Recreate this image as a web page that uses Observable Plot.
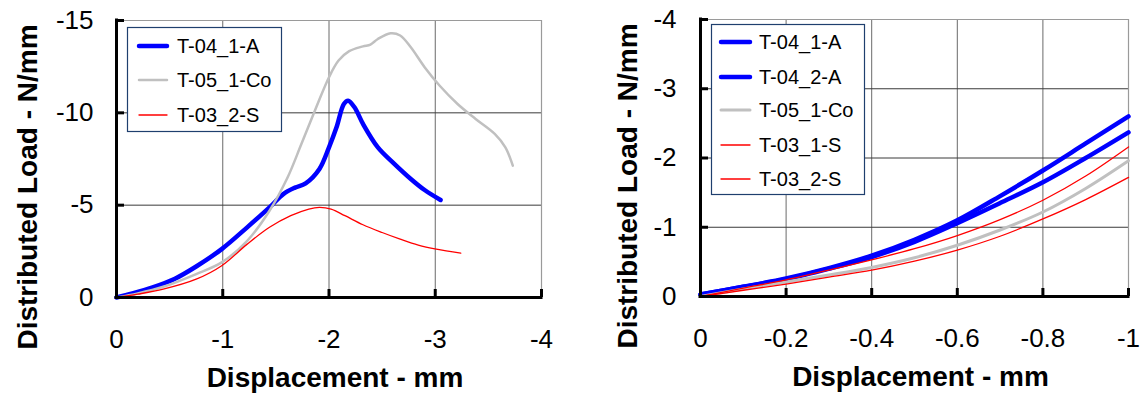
<!DOCTYPE html>
<html><head><meta charset="utf-8">
<script src="https://cdn.jsdelivr.net/npm/d3@7"></script>
<script src="https://cdn.jsdelivr.net/npm/@observablehq/plot@0.6"></script>
<style>
body{margin:0;background:#fff;font-family:"Liberation Sans",Arial,sans-serif;}
#wrap{position:relative;width:1144px;height:394px;overflow:hidden;background:#fff;}
.panel{position:absolute;top:0;}
.legend{position:absolute;}
</style></head><body><div id="wrap"></div>
<script>
// ---------- data ----------
const leftXTicks = [0, -1, -2, -3, -4];
const leftYTicks = [0, -5, -10, -15];
const rightXTicks = [0, -0.2, -0.4, -0.6, -0.8, -1];
const rightYTicks = [0, -1, -2, -3, -4];

// Left panel
const L_T04_1_A_x = [0,-0.15,-0.34,-0.55,-0.75,-0.99,-1.23,-1.44,-1.57,-1.68,-1.78,-1.91,-2.0,-2.07,-2.14,-2.18,-2.24,-2.32,-2.46,-2.6,-2.77,-2.9,-3.05];
const L_T04_1_A_y = [0,-0.22,-0.55,-1.02,-1.68,-2.62,-3.8,-4.88,-5.6,-5.95,-6.18,-6.96,-8.13,-9.2,-10.48,-10.66,-10.3,-9.4,-8.13,-7.32,-6.42,-5.82,-5.28];
const L_T05_1_Co_x = [0,-0.2,-0.44,-0.75,-0.99,-1.23,-1.44,-1.61,-1.74,-1.88,-2.0,-2.09,-2.19,-2.32,-2.39,-2.46,-2.58,-2.67,-2.77,-2.9,-3.04,-3.21,-3.38,-3.56,-3.66,-3.73];
const L_T05_1_Co_y = [0,-0.22,-0.58,-1.27,-1.9,-3.07,-4.7,-6.5,-8.31,-10.3,-11.93,-12.83,-13.34,-13.6,-13.7,-14.0,-14.31,-14.19,-13.55,-12.47,-11.48,-10.48,-9.67,-8.86,-8.13,-7.14];
const L_T03_2_S_x = [0,-0.2,-0.44,-0.75,-0.99,-1.23,-1.44,-1.64,-1.81,-1.91,-2.02,-2.15,-2.32,-2.5,-2.67,-2.84,-3.01,-3.24];
const L_T03_2_S_y = [0,-0.18,-0.45,-0.99,-1.72,-2.89,-3.8,-4.43,-4.79,-4.88,-4.79,-4.43,-3.94,-3.52,-3.16,-2.84,-2.62,-2.4];

// Right panel (shared displacement values)
const R_x = [0,-0.1,-0.2,-0.3,-0.4,-0.5,-0.6,-0.7,-0.8,-0.9,-1.0];
const R_T04_1_A = [-0.03,-0.14,-0.26,-0.41,-0.59,-0.82,-1.1,-1.45,-1.82,-2.21,-2.6];
const R_T04_2_A = [-0.03,-0.14,-0.25,-0.40,-0.57,-0.79,-1.06,-1.35,-1.65,-2.0,-2.37];
const R_T05_1_Co = [0,-0.11,-0.21,-0.31,-0.42,-0.56,-0.74,-0.96,-1.22,-1.56,-1.96];
const R_T03_1_S = [0,-0.12,-0.24,-0.38,-0.53,-0.69,-0.88,-1.11,-1.39,-1.74,-2.16];
const R_T03_2_S = [0,-0.09,-0.18,-0.28,-0.38,-0.51,-0.67,-0.87,-1.12,-1.40,-1.72];

const leftSeries = [
  {name: "T-04_1-A", xs: L_T04_1_A_x, ys: L_T04_1_A_y, color: "#0000ff", w: 4.5},
  {name: "T-05_1-Co", xs: L_T05_1_Co_x, ys: L_T05_1_Co_y, color: "#c0c0c0", w: 2.5},
  {name: "T-03_2-S", xs: L_T03_2_S_x, ys: L_T03_2_S_y, color: "#ff0000", w: 1.3}
];
const rightSeries = [
  {name: "T-04_1-A", xs: R_x, ys: R_T04_1_A, color: "#0000ff", w: 4.5},
  {name: "T-04_2-A", xs: R_x, ys: R_T04_2_A, color: "#0000ff", w: 4.5},
  {name: "T-05_1-Co", xs: R_x, ys: R_T05_1_Co, color: "#c0c0c0", w: 3},
  {name: "T-03_1-S", xs: R_x, ys: R_T03_1_S, color: "#ff0000", w: 1.3},
  {name: "T-03_2-S", xs: R_x, ys: R_T03_2_S, color: "#ff0000", w: 1.3}
];

const FONT = "'Liberation Sans', Arial, sans-serif";
const fmt = d => String(d);

function panel(cfg) {
  const {width, height, mL, mR, mT, mB, xDomain, yDomain, xTicks, yTicks, series, yPad, xTitleDx, yTitleDx, yTitleDy} = cfg;
  const frameW = width - mL - mR, frameH = height - mT - mB;
  const xEnd = xTicks[xTicks.length - 1], yEnd = yTicks[yTicks.length - 1];
  const marks = [
    Plot.ruleX(xTicks.slice(1, -1), {x: d => d, stroke: "#6a6a6a", strokeWidth: 1}),
    Plot.ruleY(yTicks.slice(1, -1), {y: d => d, stroke: "#3a3a3a", strokeWidth: 1}),
    Plot.ruleX([xEnd], {x: d => d, stroke: "#9a9a9a", strokeWidth: 1.2}),
    Plot.ruleY([yEnd], {y: d => d, stroke: "#9a9a9a", strokeWidth: 1.2})
  ];
  for (const s of series) {
    const rows = s.xs.map((x, i) => ({x, y: s.ys[i]}));
    marks.push(Plot.line(rows, {x: "x", y: "y", stroke: s.color, strokeWidth: s.w, curve: "catmull-rom"}));
  }
  marks.push(
    Plot.ruleX([0], {x: d => d, stroke: "#000", strokeWidth: 3, strokeLinecap: "square"}),
    Plot.ruleY([0], {y: d => d, stroke: "#000", strokeWidth: 3, strokeLinecap: "square"}),
    Plot.tickX(xTicks, {x: d => d, stroke: "#000", strokeWidth: 3, insetTop: frameH - 8}),
    Plot.tickY(yTicks, {y: d => d, stroke: "#000", strokeWidth: 3, insetRight: frameW - 8}),
    Plot.axisX(xTicks, {tickSize: 0, tickPadding: 32, fontSize: 26, tickFormat: fmt, label: null}),
    Plot.axisY(yTicks, {tickSize: 0, tickPadding: yPad, fontSize: 26, tickFormat: fmt, label: null}),
    Plot.text(["Displacement - mm"], {text: d => d, frameAnchor: "bottom", textAnchor: "middle", lineAnchor: "bottom", dy: 89, dx: xTitleDx, fontSize: 28, fontWeight: "bold", fill: "#000"}),
    Plot.text(["Distributed Load - N/mm"], {text: d => d, frameAnchor: "left", textAnchor: "middle", lineAnchor: "bottom", rotate: -90, dx: yTitleDx, dy: yTitleDy, fontSize: 28, fontWeight: "bold", fill: "#000"})
  );
  return Plot.plot({
    width, height, marginLeft: mL, marginRight: mR, marginTop: mT, marginBottom: mB,
    x: {domain: xDomain, axis: null},
    y: {domain: yDomain, axis: null},
    style: {fontFamily: FONT, background: "transparent", overflow: "visible", color: "#000"},
    marks
  });
}

function legend(series, box) {
  const svg = d3.create("svg").attr("width", box.w + 2).attr("height", box.h + 2)
    .attr("class", "legend").style("left", (box.x - 1) + "px").style("top", (box.y - 1) + "px");
  svg.append("rect").attr("x", 1.5).attr("y", 1.5).attr("width", box.w - 1).attr("height", box.h - 1)
    .attr("fill", "#fff").attr("stroke", "#1f3f6e").attr("stroke-width", 1.2);
  series.forEach((s, i) => {
    const cy = 1 + box.rows[i];
    svg.append("line").attr("x1", 1 + box.lx1).attr("x2", 1 + box.lx2).attr("y1", cy).attr("y2", cy)
      .attr("stroke", s.color).attr("stroke-width", s.w).attr("stroke-linecap", "round");
    svg.append("text").attr("x", 1 + box.tx).attr("y", cy + 7).attr("font-size", 20)
      .attr("font-family", FONT).attr("fill", "#000").text(s.name);
  });
  return svg.node();
}

const wrap = document.getElementById("wrap");
const left = panel({width: 572, height: 394, mL: 116, mR: 31, mT: 20, mB: 97,
  xDomain: [0, -4], yDomain: [0, -15], xTicks: leftXTicks, yTicks: leftYTicks, series: leftSeries,
  yPad: 23, xTitleDx: 6, yTitleDx: -80, yTitleDy: 28});
left.classList.add("panel"); left.style.left = "0px";
wrap.appendChild(left);
const right = panel({width: 572, height: 394, mL: 128, mR: 16, mT: 19, mB: 98,
  xDomain: [0, -1], yDomain: [0, -4], xTicks: rightXTicks, yTicks: rightYTicks, series: rightSeries,
  yPad: 24, xTitleDx: 6, yTitleDx: -64, yTitleDy: 28});
right.classList.add("panel"); right.style.left = "572px";
wrap.appendChild(right);

wrap.appendChild(legend(leftSeries, {x: 127, y: 27, w: 155, h: 105, rows: [19, 53, 88], lx1: 12, lx2: 40, tx: 50}));
wrap.appendChild(legend(rightSeries, {x: 711, y: 24, w: 154, h: 171, rows: [18, 53, 86, 121, 155], lx1: 10, lx2: 39, tx: 48}));
</script></body></html>
